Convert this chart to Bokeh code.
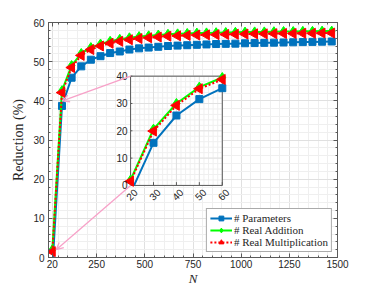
import math
from bokeh.plotting import figure
from bokeh.models import (FixedTicker, LinearAxis, Range1d, Legend, LegendItem,
                          Arrow, OpenHead, CustomJSTickFormatter, Grid)
from bokeh.core.properties import value
from bokeh.embed import file_html
from bokeh.resources import INLINE

# ---------------- data ----------------
N = [20, 70, 120, 170, 220, 270, 320, 370, 420, 470, 520, 570, 620, 670, 720,
     770, 820, 870, 920, 970, 1020, 1070, 1120, 1170, 1220, 1270, 1320, 1370, 1420, 1470]
params = [-2.8, 38.7, 45.9, 48.8, 50.5, 51.4, 52.2, 52.6, 53.1, 53.4, 53.6, 53.8, 54.0, 54.1, 54.2,
          54.3, 54.4, 54.5, 54.55, 54.6, 54.7, 54.75, 54.8, 54.85, 54.9, 54.95, 55.0, 55.05, 55.1, 55.15]
real_add = [2.0, 42.6, 49.0, 52.1, 53.6, 54.5, 55.2, 55.7, 56.1, 56.4, 56.6, 56.8, 57.0, 57.1, 57.2,
            57.3, 57.35, 57.4, 57.45, 57.5, 57.55, 57.6, 57.6, 57.65, 57.7, 57.7, 57.75, 57.75, 57.8, 57.8]
real_mult = [1.5, 42.1, 48.5, 51.6, 53.1, 54.0, 54.7, 55.2, 55.6, 55.9, 56.1, 56.3, 56.5, 56.6, 56.7,
             56.8, 56.85, 56.9, 56.95, 57.0, 57.05, 57.1, 57.1, 57.15, 57.2, 57.2, 57.25, 57.25, 57.3, 57.3]

N_in = [20, 30, 40, 50, 60]
params_in = [-2.8, 15.6, 25.6, 31.6, 35.6]
real_add_in = [2.0, 20.6, 30.0, 36.0, 39.5]
real_mult_in = [1.5, 19.9, 29.3, 35.4, 38.8]

x_ticks = [20, 250, 500, 750, 1000, 1250, 1500]
x_minor = list(range(0, 1501, 50))
y_ticks = [0, 10, 20, 30, 40, 50, 60]
y_minor = list(range(0, 61, 2))
in_x_ticks = [20, 30, 40, 50, 60]
in_y_ticks = [0, 10, 20, 30, 40]
in_x_minor = list(range(20, 61, 2))
in_y_minor = list(range(0, 41, 2))

labels = ["# Parameters", "# Real Addition", "# Real Multiplication"]

# ---------------- style ----------------
BLUE, GREEN, RED = "#0072BD", "#00FF00", "#FF0000"
PINK = "#F7A1C8"
TXT = "#262626"
AXC = "#5a5a5a"
MAJ_GRID, MIN_GRID = "#e0e0e0", "#efefef"
SERIF = "Liberation Serif"

# inset placement (main-data coordinates) and arrow tips
INSET_X = (426, 902)
INSET_Y = (18.4, 46.3)
ARROW_TIPS = [(72, 40), (40, 2)]


def clip_below(xs, ys, ymin):
    """clip a polyline to y >= ymin (like axes clipping)"""
    ox, oy = [], []
    for i in range(len(xs)):
        if ys[i] >= ymin:
            if i > 0 and ys[i - 1] < ymin:
                t = (ymin - ys[i - 1]) / (ys[i] - ys[i - 1])
                ox.append(xs[i - 1] + t * (xs[i] - xs[i - 1]))
                oy.append(ymin)
            ox.append(xs[i])
            oy.append(ys[i])
    return ox, oy


p = figure(frame_width=289, frame_height=235, x_range=Range1d(0, 1500), y_range=Range1d(0, 60),
           output_backend="svg", toolbar_location=None,
           x_axis_location=None, y_axis_location=None,
           min_border_left=48, min_border_right=35, min_border_top=22, min_border_bottom=33,
           background_fill_color="white", border_fill_color="white")
p.outline_line_color = AXC

xt = FixedTicker(ticks=x_ticks, minor_ticks=x_minor)
yt = FixedTicker(ticks=y_ticks, minor_ticks=y_minor)
blank = CustomJSTickFormatter(code="return ''")

bottom = LinearAxis(ticker=xt, axis_label="N")
left = LinearAxis(ticker=yt, axis_label="Reduction (%)")
top = LinearAxis(ticker=xt, formatter=blank, major_label_standoff=0)
right = LinearAxis(ticker=yt, formatter=blank, major_label_standoff=0)
p.add_layout(bottom, "below")
p.add_layout(left, "left")
p.add_layout(top, "above")
p.add_layout(right, "right")

for ax in [bottom, left, top, right]:
    ax.major_tick_in = 4
    ax.major_tick_out = 0
    ax.minor_tick_in = 2
    ax.minor_tick_out = 0
    ax.axis_line_color = AXC
    ax.major_tick_line_color = AXC
    ax.minor_tick_line_color = AXC

for ax in [bottom, left]:
    ax.major_label_text_font = "Liberation Sans"
    ax.major_label_text_font_size = "10px"
    ax.major_label_text_color = TXT
    ax.axis_label_text_font = SERIF
    ax.axis_label_text_color = TXT

bottom.major_label_standoff = 2
left.major_label_standoff = 4
bottom.axis_label_text_font_style = "italic"
bottom.axis_label_text_font_size = "13px"
bottom.axis_label_standoff = 0
left.axis_label_text_font_style = "normal"
left.axis_label_text_font_size = "14px"
left.axis_label_standoff = 4

xg = Grid(dimension=0, ticker=xt, grid_line_color=MAJ_GRID, minor_grid_line_color=MIN_GRID)
yg = Grid(dimension=1, ticker=yt, grid_line_color=MAJ_GRID, minor_grid_line_color=MIN_GRID)
p.add_layout(xg)
p.add_layout(yg)

# ---------------- main series ----------------
bl = p.line(N, params, line_color=BLUE, line_width=2)
bs = p.scatter(N, params, marker="square", size=7, color=BLUE)
gl = p.line(N, real_add, line_color=GREEN, line_width=2)
gs = p.scatter(N, real_add, marker="diamond", size=10, color=GREEN)
rl = p.line(N, real_mult, line_color=RED, line_width=2, line_dash="2 2")
rs = p.scatter(N, real_mult, marker="triangle", size=10, angle=math.pi / 2, color=RED)

# ---------------- inset ----------------
ins = p.subplot(x_source=Range1d(20, 60), y_source=Range1d(0, 40),
                x_target=Range1d(*INSET_X), y_target=Range1d(*INSET_Y))
ins.quad(left=[20], right=[60], bottom=[0], top=[40], fill_color="white", line_color=None)
ins.segment(x0=in_x_minor, y0=[0] * len(in_x_minor), x1=in_x_minor, y1=[40] * len(in_x_minor),
            line_color=MIN_GRID, line_width=1)
ins.segment(x0=[20] * len(in_y_minor), y0=in_y_minor, x1=[60] * len(in_y_minor), y1=in_y_minor,
            line_color=MIN_GRID, line_width=1)
ins.segment(x0=in_x_ticks, y0=[0] * 5, x1=in_x_ticks, y1=[40] * 5, line_color=MAJ_GRID, line_width=1)
ins.segment(x0=[20] * 5, y0=in_y_ticks, x1=[60] * 5, y1=in_y_ticks, line_color=MAJ_GRID, line_width=1)
ins.quad(left=[20], right=[60], bottom=[0], top=[40], fill_color=None, line_color=AXC, line_width=1)
ins.segment(x0=in_x_ticks, y0=[0] * 5, x1=in_x_ticks, y1=[1.2] * 5, line_color=AXC)
ins.segment(x0=[20] * 5, y0=in_y_ticks, x1=[20.8] * 5, y1=in_y_ticks, line_color=AXC)

bx, by = clip_below(N_in, params_in, 0)
ins.line(bx, by, line_color=BLUE, line_width=2)
ins.scatter([x for x, y in zip(N_in, params_in) if y >= 0],
            [y for y in params_in if y >= 0], marker="square", size=7, color=BLUE)
ins.line(N_in, real_add_in, line_color=GREEN, line_width=2)
ins.scatter(N_in, real_add_in, marker="diamond", size=10, color=GREEN)
ins.line(N_in, real_mult_in, line_color=RED, line_width=2, line_dash="2 2")
ins.scatter(N_in, real_mult_in, marker="triangle", size=10, angle=math.pi / 2, color=RED)

ins.text(x=[20] * 5, y=in_y_ticks, text=[str(t) for t in in_y_ticks],
         text_align="right", text_baseline="middle", x_offset=-3,
         text_font=value("Liberation Sans"), text_font_size="10px", text_color=TXT)
ins.text(x=in_x_ticks, y=[0] * 5, text=[str(t) for t in in_x_ticks], angle=math.pi / 4,
         text_align="right", text_baseline="middle", x_offset=5, y_offset=5,
         text_font=value("Liberation Sans"), text_font_size="10px", text_color=TXT)

# ---------------- arrows ----------------
for (tx, ty), sy in zip(ARROW_TIPS, [INSET_Y[1], INSET_Y[0]]):
    p.add_layout(Arrow(end=OpenHead(size=7, line_color=PINK, line_width=1.3),
                       x_start=INSET_X[0], y_start=sy, x_end=tx, y_end=ty,
                       line_color=PINK, line_width=1.3))

# ---------------- legend ----------------
legend = Legend(items=[LegendItem(label=labels[0], renderers=[bl, bs]),
                       LegendItem(label=labels[1], renderers=[gl, gs]),
                       LegendItem(label=labels[2], renderers=[rl, rs])],
                location="bottom_right",
                label_text_font=SERIF, label_text_font_size="11px",
                label_text_color=TXT, glyph_width=22, glyph_height=12, label_height=12,
                label_standoff=2, spacing=0, padding=3, margin=5,
                border_line_color="#555555", border_line_width=1,
                background_fill_color="white", background_fill_alpha=1)
p.add_layout(legend)

open("out.html", "w").write(file_html(p, INLINE))
